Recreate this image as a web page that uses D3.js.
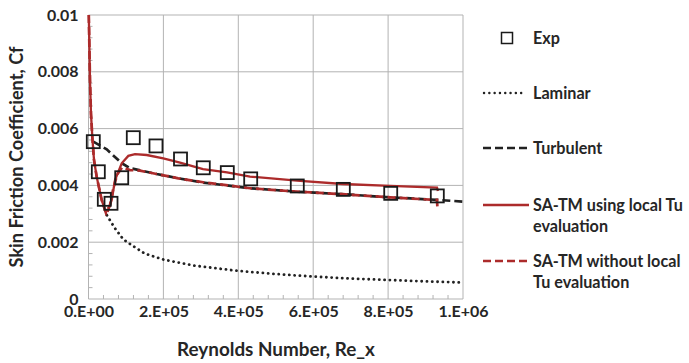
<!DOCTYPE html>
<html><head><meta charset="utf-8">
<script src="https://cdn.jsdelivr.net/npm/d3@7/dist/d3.min.js"></script>
<style>
body{margin:0;background:#fff;}
text{font-family:Lato,"Open Sans",sans-serif;font-weight:bold;fill:#262626;}
</style></head><body>
<svg id="c" width="689" height="363"></svg>
<script>
const xTicks=[0,200000,400000,600000,800000,1000000];
const xTickLabels=["0.E+00","2.E+05","4.E+05","6.E+05","8.E+05","1.E+06"];
const yTicks=[0,0.002,0.004,0.006,0.008,0.01];
const yTickLabels=["0","0.002","0.004","0.006","0.008","0.01"];

const expX=[12800,26200,42200,60100,88700,119600,180200,245700,306500,370600,433100,557500,680400,807000,931400];
const expY=[0.00554,0.00448,0.00351,0.00337,0.00427,0.00568,0.00539,0.00493,0.00462,0.00445,0.00423,0.00398,0.00386,0.00372,0.00363];

const lamX=[40000,48600,70000,93000,115000,150000,200000,280000,400000,500000,600000,700000,800000,900000,1000000];
const lamY=[0.0033,0.00296,0.0025,0.0021,0.0019,0.0016,0.00139,0.00118,0.00099,0.00088,0.00079,0.00072,0.00067,0.00062,0.00058];

const turbX=[12800,48600,88700,110800,182100,239800,305700,431200,556700,679600,805100,930600,1000000];
const turbY=[0.00554,0.00527,0.00478,0.00461,0.0044,0.00425,0.0041,0.0039,0.00378,0.00369,0.00358,0.00349,0.00343];

const satmX=[800,4000,6700,10700,14700,21900,35200,44000,52000,62000,70800,88700,106300,124200,155400,199700,244300,305700,369800,431200,556700,679600,805100,930600,933000];
const satmY=[0.01,0.0077,0.0065,0.0056,0.0049,0.0043,0.00349,0.00313,0.0031,0.00349,0.00419,0.00478,0.00504,0.0051,0.00507,0.00495,0.0048,0.00457,0.00446,0.00431,0.00417,0.00405,0.00398,0.00392,0.0038];

const satm2X=[800,4000,6700,10700,14700,21900,35200,46700,57400,65400,76100,89500,110800,137500,182100,239800,305700,431200,556700,679600,805100,912000,930600,932000];
const satm2Y=[0.01,0.0077,0.0065,0.0056,0.0049,0.0043,0.00349,0.00303,0.00331,0.00384,0.00437,0.00463,0.00454,0.00452,0.0044,0.00425,0.00411,0.0039,0.00378,0.00369,0.00358,0.0035,0.00349,0.00313];

const legendLabels=[["Exp"],["Laminar"],["Turbulent"],["SA-TM using local Tu","evaluation"],["SA-TM without local","Tu evaluation"]];

const svg=d3.select("#c");
const x=d3.scaleLinear().domain([0,1000000]).range([88.5,463]);
const y=d3.scaleLinear().domain([0,0.01]).range([299,15]);
const grid="#b3b3b3";
const red="#ac2b2b";

// fit a text's font size so its width matches a measured target
function fitSize(str,target,base){
  const t=svg.append("text").style("font-size",base+"px").text(str);
  const w=t.node().getComputedTextLength();
  t.remove();
  return base*target/w;
}
const tickFs=fitSize("0.E+00",50,14);
const titleXFs=fitSize("Reynolds Number, Re_x",198,15);
const titleYFs=fitSize("Skin Friction Coefficient, Cf",221,15);
const legFs=fitSize("SA-TM using local Tu",150,14);

// gridlines
svg.append("g").selectAll("line").data(xTicks).join("line")
  .attr("x1",d=>x(d)).attr("x2",d=>x(d)).attr("y1",y(0)).attr("y2",y(0.01))
  .attr("stroke",grid).attr("stroke-width",1);
svg.append("g").selectAll("line").data(yTicks).join("line")
  .attr("y1",d=>y(d)).attr("y2",d=>y(d)).attr("x1",x(0)).attr("x2",x(1000000))
  .attr("stroke",grid).attr("stroke-width",1);
// minor ticks
const xMinor=d3.range(0,1000001,40000).filter(v=>v%200000!==0);
svg.append("g").selectAll("line").data(xMinor).join("line")
  .attr("x1",d=>x(d)).attr("x2",d=>x(d)).attr("y1",y(0)).attr("y2",y(0)-4)
  .attr("stroke",grid);
const yMinor=d3.range(0,26).map(i=>i*0.0004).filter((v,i)=>i%5!==0 && v<0.01);
svg.append("g").selectAll("line").data(yMinor).join("line")
  .attr("y1",d=>y(d)).attr("y2",d=>y(d)).attr("x1",x(0)).attr("x2",x(0)+4)
  .attr("stroke",grid);

// axes labels via d3 axis
const xAxis=svg.append("g").attr("transform",`translate(0,${y(0)})`)
  .call(d3.axisBottom(x).tickValues(xTicks).tickFormat((d,i)=>xTickLabels[i]).tickSize(0).tickPadding(7));
xAxis.select(".domain").remove();
xAxis.selectAll("text").style("font-size",tickFs+"px").attr("fill","#262626").style("font-family","Lato").attr("dy","0").attr("y",18);
const yAxis=svg.append("g").attr("transform",`translate(${x(0)},0)`)
  .call(d3.axisLeft(y).tickValues(yTicks).tickFormat((d,i)=>yTickLabels[i]).tickSize(0).tickPadding(10));
yAxis.select(".domain").remove();
yAxis.selectAll("text").style("font-size",tickFs+"px").attr("fill","#262626").style("font-family","Lato");

svg.append("text").attr("x",276).attr("y",356).attr("text-anchor","middle").style("font-size",titleXFs+"px").text("Reynolds Number, Re_x");
svg.append("text").attr("transform","translate(23,157) rotate(-90)").attr("text-anchor","middle").style("font-size",titleYFs+"px").text("Skin Friction Coefficient, Cf");

const line=d3.line().x(d=>x(d[0])).y(d=>y(d[1]));
const zip=(a,b)=>a.map((v,i)=>[v,b[i]]);

svg.append("path").attr("d",line(zip(lamX,lamY))).attr("fill","none").attr("stroke","#222")
  .attr("stroke-width",2.8).attr("stroke-linecap","round").attr("stroke-dasharray","0.1 5.2");
svg.append("path").attr("d",line(zip(turbX,turbY))).attr("fill","none").attr("stroke","#222")
  .attr("stroke-width",2.7).attr("stroke-dasharray","8 4");
svg.append("path").attr("d",line(zip(satmX,satmY))).attr("fill","none").attr("stroke",red)
  .attr("stroke-width",2.3);
svg.append("path").attr("d",line(zip(satm2X,satm2Y))).attr("fill","none").attr("stroke",red)
  .attr("stroke-width",2.7).attr("stroke-dasharray","8 4");

const s=13;
svg.append("g").selectAll("rect").data(zip(expX,expY)).join("rect")
  .attr("x",d=>x(d[0])-s/2).attr("y",d=>y(d[1])-s/2).attr("width",s).attr("height",s)
  .attr("fill","none").attr("stroke","#1a1a1a").attr("stroke-width",1.8);

// legend
const lg=svg.append("g");
const ly=[38,93,148,205,261];
lg.append("rect").attr("x",507-5.5).attr("y",ly[0]-5.5).attr("width",11).attr("height",11).attr("fill","none").attr("stroke","#1a1a1a").attr("stroke-width",1.5);
lg.append("line").attr("x1",484).attr("x2",524).attr("y1",ly[1]).attr("y2",ly[1]).attr("stroke","#222").attr("stroke-width",2.4).attr("stroke-linecap","round").attr("stroke-dasharray","0.1 5.2");
lg.append("line").attr("x1",483).attr("x2",528).attr("y1",ly[2]).attr("y2",ly[2]).attr("stroke","#222").attr("stroke-width",2.7).attr("stroke-dasharray","8 4");
lg.append("line").attr("x1",483).attr("x2",529).attr("y1",ly[3]).attr("y2",ly[3]).attr("stroke",red).attr("stroke-width",2.4);
lg.append("line").attr("x1",483).attr("x2",528).attr("y1",ly[4]).attr("y2",ly[4]).attr("stroke",red).attr("stroke-width",2.7).attr("stroke-dasharray","8 4");
legendLabels.forEach((lines,i)=>{
  lines.forEach((t,j)=>{
    lg.append("text").attr("x",533).attr("y",ly[i]+j*21.5).attr("dy","0.35em").style("font-size",legFs+"px").text(t);
  });
});
</script></body></html>
